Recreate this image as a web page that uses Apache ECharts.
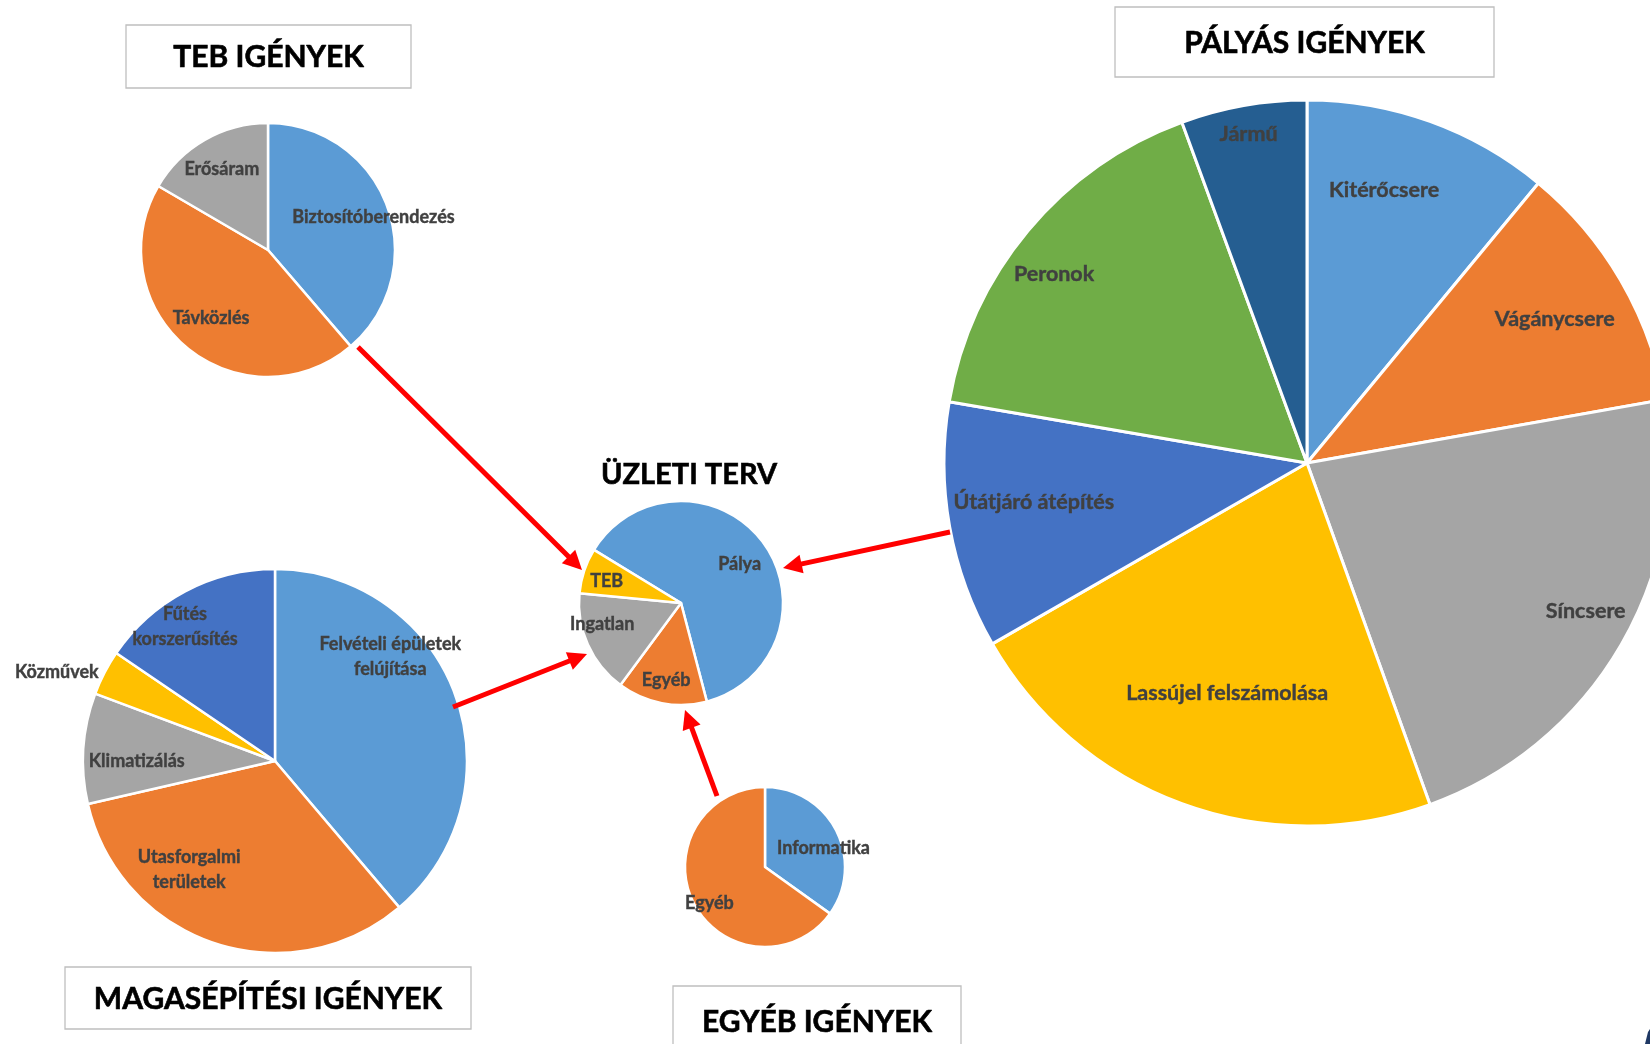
<!DOCTYPE html>
<html>
<head>
<meta charset="UTF-8">
<title>Üzleti terv</title>
<script src="https://cdn.jsdelivr.net/npm/echarts@6/dist/echarts.min.js"></script>
<style>
	body { margin: 0; background: #fff; }
	#chart { width: 1650px; height: 1044px; }
</style>
</head>
<body>
<div id="chart"></div>
<script type="text/javascript">
	// Office-paletta, a szeletek sorrendjében
	var palette = ['#5B9BD5', '#ED7D31', '#A5A5A5', '#FFC000', '#4472C4', '#70AD47', '#255E91'];

	// Üzleti terv (középső kör)
	var uzletiNames = ['Pálya', 'Egyéb', 'Ingatlan', 'TEB'];
	var uzletiValues = [62.2, 14.2, 16.4, 7.2];

	// Pályás igények
	var palyasNames = ['Kitérőcsere', 'Vágánycsere', 'Síncsere', 'Lassújel felszámolása', 'Útátjáró átépítés', 'Peronok', 'Jármű'];
	var palyasValues = [11, 11.2, 22.3, 22.2, 11, 16.7, 5.6];

	// TEB igények
	var tebNames = ['Biztosítóberendezés', 'Távközlés', 'Erősáram'];
	var tebValues = [38.7, 44.7, 16.6];

	// Magasépítési igények
	var magasNames = ['Felvételi épületek\nfelújítása', 'Utasforgalmi\nterületek', 'Klimatizálás', 'Közművek', 'Fűtés\nkorszerűsítés'];
	var magasValues = [38.8, 32.6, 9.3, 3.8, 15.5];

	// Egyéb igények
	var egyebNames = ['Informatika', 'Egyéb'];
	var egyebValues = [34.9, 65.1];

	// feliratok távolsága a középponttól (a sugár arányában) és elforgatása fokban,
	// ahogy az Excel "legjobb illeszkedés" elhelyezése teszi
	var uzletiLabelDist = [0.69, 0.77, 0.8, 0.76], uzletiLabelTurn = [3, 0, 9, -2];
	var palyasLabelDist = [0.78, 0.79, 0.87, 0.67, 0.76, 0.87, 0.92], palyasLabelTurn = [-4, 0, -2, -1, 2, -3, 0];
	var tebLabelDist = [0.87, 0.7, 0.73], tebLabelTurn = [3, 0, 0];
	var magasLabelDist = [0.81, 0.72, 0.72, null, 0.84], magasLabelTurn = [-22, 20, -4, 0, -6];
	var egyebLabelDist = [0.77, 0.83], egyebLabelTurn = [9, -6];

	function placeLabels(cx, cy, r, dist, turn) {
		return function (p) {
			var i = p.dataIndex;
			if (dist[i] == null) return {};
			var lr = p.labelRect;
			var a = Math.atan2(lr.y + lr.height / 2 - cy, lr.x + lr.width / 2 - cx) + turn[i] * Math.PI / 180;
			return { x: cx + Math.cos(a) * r * dist[i], y: cy + Math.sin(a) * r * dist[i] };
		};
	}

	function pie(names, values, cx, cy, r, fontSize, startAngle, dist, turn) {
		return {
			type: 'pie',
			center: [cx, cy],
			radius: r,
			startAngle: startAngle,
			clockwise: true,
			silent: true,
			avoidLabelOverlap: false,
			itemStyle: { borderColor: '#fff', borderWidth: 2.5 },
			label: {
				show: true,
				position: 'inside',
				formatter: '{b}',
				color: '#404040',
				fontFamily: 'Lato',
				fontWeight: 'bold',
				fontSize: fontSize,
				lineHeight: Math.round(fontSize * 1.38),
				textBorderColor: '#404040',
				textBorderWidth: 0.4
			},
			labelLine: { show: false },
			labelLayout: placeLabels(cx, cy, r, dist, turn),
			data: names.map(function (n, i) {
				return { name: n, value: values[i], itemStyle: { color: palette[i] } };
			})
		};
	}

	function arrow(x1, y1, x2, y2) {
		var a = Math.atan2(y2 - y1, x2 - x1), L = 19, W = 9.5;
		var bx = x2 - L * Math.cos(a), by = y2 - L * Math.sin(a);
		var nx = -Math.sin(a), ny = Math.cos(a);
		return [
			{ type: 'line', z: 10, shape: { x1: x1, y1: y1, x2: bx + 2 * Math.cos(a), y2: by + 2 * Math.sin(a) },
				style: { stroke: '#FF0000', lineWidth: 5 } },
			{ type: 'polygon', z: 10, shape: { points: [[x2, y2], [bx + nx * W, by + ny * W], [bx - nx * W, by - ny * W]] },
				style: { fill: '#FF0000' } }
		];
	}

	var titleStyle = { fill: '#000', stroke: '#000', lineWidth: 0.6, align: 'center', verticalAlign: 'middle' };

	function titleText(x, y, text, size) {
		return { type: 'text', z: 6, x: x, y: y,
			style: Object.assign({ text: text, font: 'bold ' + size + 'px Lato' }, titleStyle) };
	}

	function titleBox(x, y, w, h, text, size) {
		return [
			{ type: 'rect', z: 5, shape: { x: x, y: y, width: w, height: h },
				style: { fill: '#fff', stroke: '#BFBFBF', lineWidth: 1.3 } },
			titleText(x + w / 2, y + h / 2 + 1, text, size)
		];
	}

	var magas = pie(magasNames, magasValues, 275, 761, 192, 18, 90, magasLabelDist, magasLabelTurn);
	magas.data[3].label = { position: 'outside', distanceToLabelLine: 4 };
	magas.data[3].labelLine = { show: false, length: 2, length2: 0 };

	var palyas = pie(palyasNames, palyasValues, 1307, 463, 363, 21.5, 90, palyasLabelDist, palyasLabelTurn);
	palyas.itemStyle.borderWidth = 3;

	var graphics = []
		.concat(titleBox(126, 25, 285, 63, 'TEB IGÉNYEK', 30))
		.concat(titleBox(1115, 7, 379, 70, 'PÁLYÁS IGÉNYEK', 30))
		.concat(titleBox(65, 967, 406, 62, 'MAGASÉPÍTÉSI IGÉNYEK', 30))
		.concat(titleBox(673, 986, 288, 70, 'EGYÉB IGÉNYEK', 30))
		.concat(arrow(358, 347, 582, 570))
		.concat(arrow(453, 707, 587, 654))
		.concat(arrow(717, 796, 685, 710))
		.concat(arrow(950, 532, 783, 568));
	graphics.push(titleText(689, 475, 'ÜZLETI TERV', 29));
	graphics.push({ type: 'polygon', z: 6, shape: { points: [[1645, 1044], [1648, 1032], [1650, 1029], [1650, 1044]] },
		style: { fill: '#1F3864' } });

	var myChart = echarts.init(document.getElementById('chart'));
	myChart.setOption({
		backgroundColor: '#fff',
		animation: false,
		series: [
			pie(uzletiNames, uzletiValues, 681, 603, 102, 18, 148.6, uzletiLabelDist, uzletiLabelTurn),
			palyas,
			pie(tebNames, tebValues, 268, 250, 127, 18, 90, tebLabelDist, tebLabelTurn),
			magas,
			pie(egyebNames, egyebValues, 765, 867, 80, 18, 90, egyebLabelDist, egyebLabelTurn)
		],
		graphic: graphics
	});
</script>
</body>
</html>
